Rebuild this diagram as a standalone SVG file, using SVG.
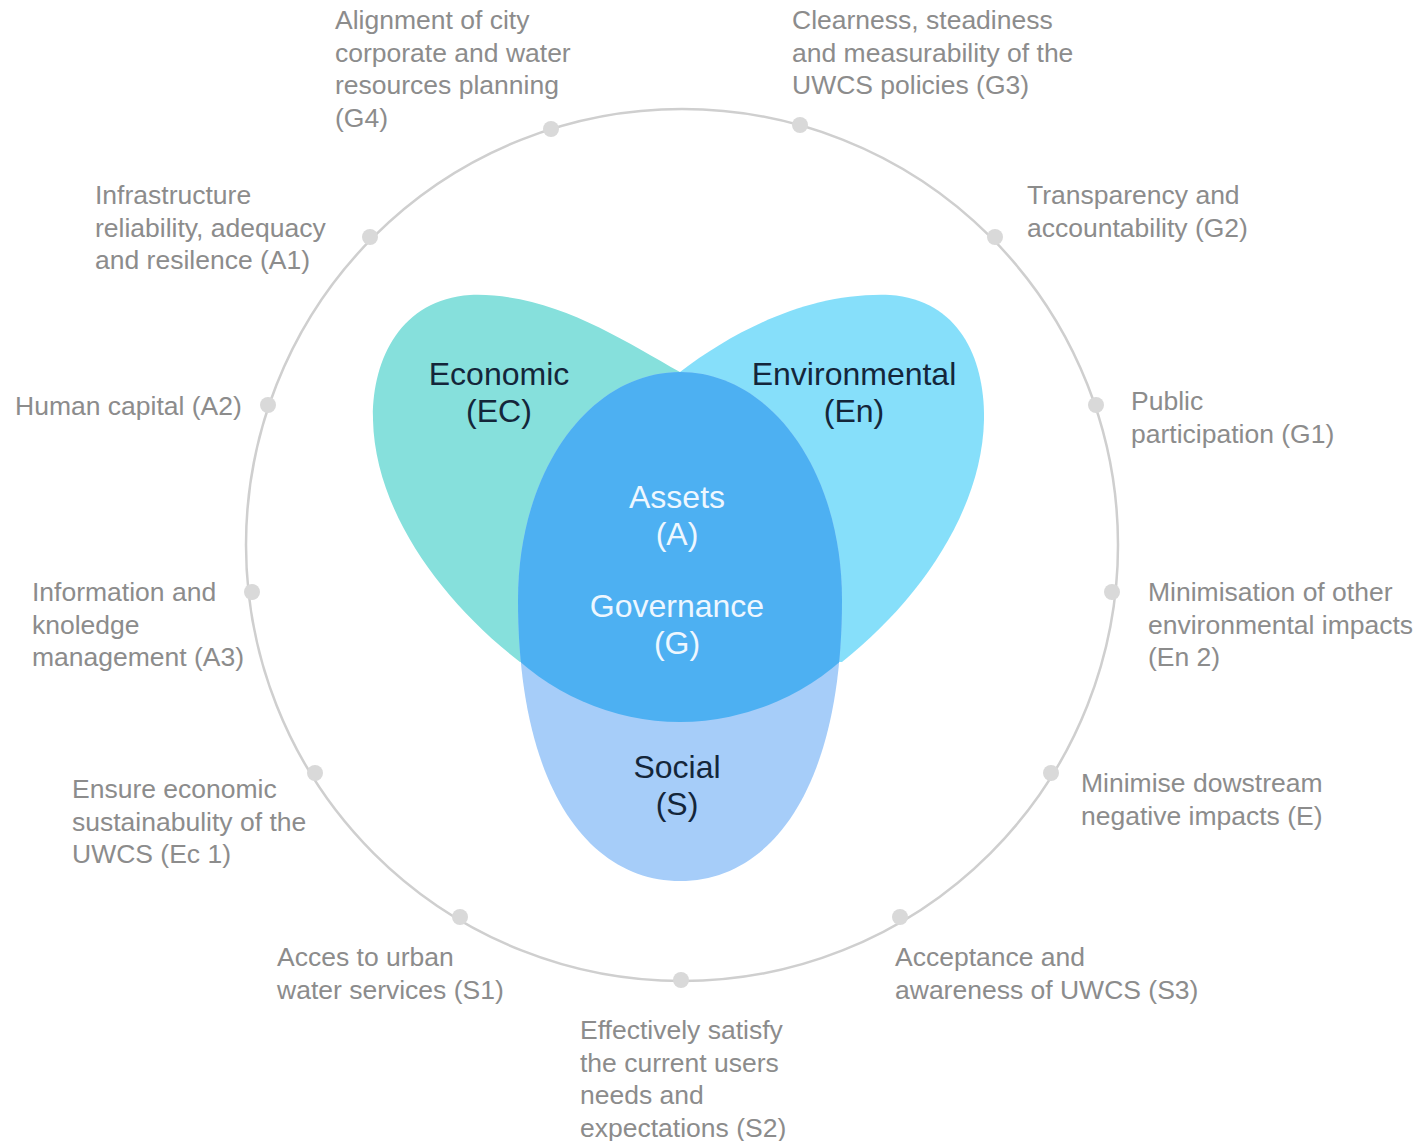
<svg xmlns="http://www.w3.org/2000/svg" width="1421" height="1141" viewBox="0 0 1421 1141">
<style>
.lbl{font-family:"Liberation Sans",Arial,sans-serif;font-size:26.5px;fill:#8c8c8c}
.dim{font-family:"Liberation Sans",Arial,sans-serif;font-size:32px;fill:#14263a;text-anchor:middle}
.core{font-family:"Liberation Sans",Arial,sans-serif;font-size:32px;fill:#eef7ff;text-anchor:middle}
.dot{fill:#d9d9d9}
</style>
<defs>
<clipPath id="socialClip">
<path d="M680,372 C590,372 518,470 518,600 C518,790 590,881 680,881 C770,881 842,790 842,600 C842,470 770,372 680,372 Z"/>
</clipPath>
</defs>
<rect width="1421" height="1141" fill="#ffffff"/>
<g id="connectors">
<circle cx="682" cy="545" r="436" fill="none" stroke="#cfcfcf" stroke-width="2.5"/>
</g>
<g id="economic">
<path d="M680,372 C620,338 550,292 470,295 C400,300 372,360 373,420 C375,510 440,600 520,662 L640,660 Z" fill="#86e0dc"/>
</g>
<g id="environmental">
<path d="M680,372 C735,330 810,292 890,295 C960,300 985,360 984,420 C982,510 920,600 842,662 L720,660 Z" fill="#86dffa"/>
</g>
<g id="social">
<path d="M680,372 C590,372 518,470 518,600 C518,790 590,881 680,881 C770,881 842,790 842,600 C842,470 770,372 680,372 Z" fill="#a6cdf9"/>
</g>
<g id="core">
<ellipse cx="680" cy="450" rx="255" ry="272" fill="#4db0f2" clip-path="url(#socialClip)"/>
</g>
<g id="labels-center">
<text class="dim" x="499" y="385">Economic</text>
<text class="dim" x="499" y="422">(EC)</text>
<text class="dim" x="854" y="385">Environmental</text>
<text class="dim" x="854" y="422">(En)</text>
<text class="core" x="677" y="508">Assets</text>
<text class="core" x="677" y="545">(A)</text>
<text class="core" x="677" y="617">Governance</text>
<text class="core" x="677" y="654">(G)</text>
<text class="dim" x="677" y="778">Social</text>
<text class="dim" x="677" y="815">(S)</text>
</g>
<g id="G4"><circle class="dot" cx="551" cy="129" r="8"/>
<text class="lbl"><tspan x="335" y="29">Alignment of city</tspan><tspan x="335" y="61.5">corporate and water</tspan><tspan x="335" y="94">resources planning</tspan><tspan x="335" y="126.5">(G4)</tspan></text></g>
<g id="G3"><circle class="dot" cx="800" cy="125" r="8"/>
<text class="lbl"><tspan x="792" y="29">Clearness, steadiness</tspan><tspan x="792" y="61.5">and measurability of the</tspan><tspan x="792" y="94">UWCS policies (G3)</tspan></text></g>
<g id="A1"><circle class="dot" cx="370" cy="237" r="8"/>
<text class="lbl"><tspan x="95" y="204">Infrastructure</tspan><tspan x="95" y="236.5">reliability, adequacy</tspan><tspan x="95" y="269">and resilence (A1)</tspan></text></g>
<g id="G2"><circle class="dot" cx="995" cy="237" r="8"/>
<text class="lbl"><tspan x="1027" y="204">Transparency and</tspan><tspan x="1027" y="236.5">accountability (G2)</tspan></text></g>
<g id="A2"><circle class="dot" cx="268" cy="405" r="8"/>
<text class="lbl" x="15" y="415">Human capital (A2)</text></g>
<g id="G1"><circle class="dot" cx="1096" cy="405" r="8"/>
<text class="lbl"><tspan x="1131" y="410">Public</tspan><tspan x="1131" y="442.5">participation (G1)</tspan></text></g>
<g id="A3"><circle class="dot" cx="252" cy="592" r="8"/>
<text class="lbl"><tspan x="32" y="601">Information and</tspan><tspan x="32" y="633.5">knoledge</tspan><tspan x="32" y="666">management (A3)</tspan></text></g>
<g id="En2"><circle class="dot" cx="1112" cy="592" r="8"/>
<text class="lbl"><tspan x="1148" y="601">Minimisation of other</tspan><tspan x="1148" y="633.5">environmental impacts</tspan><tspan x="1148" y="666">(En 2)</tspan></text></g>
<g id="Ec1"><circle class="dot" cx="315" cy="773" r="8"/>
<text class="lbl"><tspan x="72" y="798">Ensure economic</tspan><tspan x="72" y="830.5">sustainabulity of the</tspan><tspan x="72" y="863">UWCS (Ec 1)</tspan></text></g>
<g id="E"><circle class="dot" cx="1051" cy="773" r="8"/>
<text class="lbl"><tspan x="1081" y="792">Minimise dowstream</tspan><tspan x="1081" y="824.5">negative impacts (E)</tspan></text></g>
<g id="S1"><circle class="dot" cx="460" cy="917" r="8"/>
<text class="lbl"><tspan x="277" y="966">Acces to urban</tspan><tspan x="277" y="998.5">water services (S1)</tspan></text></g>
<g id="S3"><circle class="dot" cx="900" cy="917" r="8"/>
<text class="lbl"><tspan x="895" y="966">Acceptance and</tspan><tspan x="895" y="998.5">awareness of UWCS (S3)</tspan></text></g>
<g id="S2"><circle class="dot" cx="681" cy="980" r="8"/>
<text class="lbl"><tspan x="580" y="1039">Effectively satisfy</tspan><tspan x="580" y="1071.5">the current users</tspan><tspan x="580" y="1104">needs and</tspan><tspan x="580" y="1136.5">expectations (S2)</tspan></text></g>
</svg>
